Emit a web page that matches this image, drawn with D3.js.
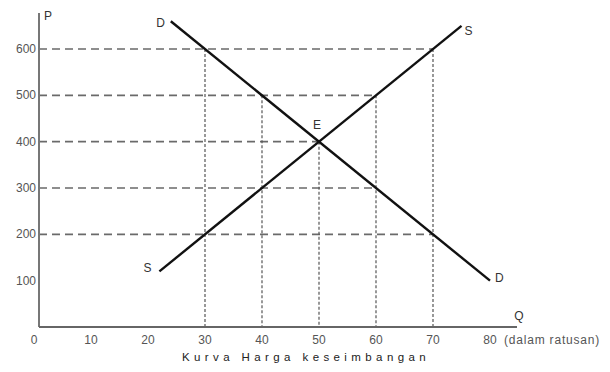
<!DOCTYPE html>
<html>
<head>
<meta charset="utf-8">
<script src="https://cdn.jsdelivr.net/npm/d3@7"></script>
<style>
    body { margin: 0; background: #fff; }
    text { font-family: "Liberation Sans", Arial, sans-serif; }
</style>
</head>
<body>
<div id="chart"></div>
<script>
// chart data
var qTicks = [0, 10, 20, 30, 40, 50, 60, 70, 80];
var pTicks = [100, 200, 300, 400, 500, 600];

// demand and supply end points (Q, P)
var demandQ = [24, 80];
var demandP = [660, 100];
var supplyQ = [22, 75];
var supplyP = [120, 650];

// guide lines: price level and the quantity it reaches
var guideP = [600, 500, 400, 300, 200];
var guideQ = [70, 60, 50, 60, 70];

// vertical guides: quantity and the price they start from
var dropQ = [30, 40, 50, 60, 70];
var dropP = [600, 500, 400, 500, 600];

var width = 610;
var height = 372;

var svg = d3.select("#chart").append("svg")
    .attr("width", width)
    .attr("height", height);

// setup scales
var xScale = d3.scaleLinear().domain([0, 80]).range([34, 490]);
var yScale = d3.scaleLinear().domain([0, 600]).range([327, 49]);
var axisX = 39;

// horizontal dashed guides
svg.selectAll(".hguide")
    .data(guideP)
    .enter()
    .append("line")
    .attr("class", "hguide")
    .attr("x1", axisX)
    .attr("x2", function (d, i) { return xScale(guideQ[i]); })
    .attr("y1", function (d) { return yScale(d); })
    .attr("y2", function (d) { return yScale(d); })
    .style("stroke", "#6a6a6a")
    .style("stroke-width", 1.6)
    .style("stroke-dasharray", "8,5");

// vertical dotted guides
svg.selectAll(".vguide")
    .data(dropQ)
    .enter()
    .append("line")
    .attr("class", "vguide")
    .attr("x1", function (d) { return xScale(d); })
    .attr("x2", function (d) { return xScale(d); })
    .attr("y1", function (d, i) { return yScale(dropP[i]); })
    .attr("y2", yScale(0))
    .style("stroke", "#555")
    .style("stroke-width", 1.2)
    .style("stroke-dasharray", "3,2");

// axes
svg.append("line")
    .attr("x1", axisX).attr("x2", axisX)
    .attr("y1", 13).attr("y2", yScale(0))
    .style("stroke", "#777").style("stroke-width", 2);

svg.append("line")
    .attr("x1", axisX).attr("x2", 517)
    .attr("y1", yScale(0)).attr("y2", yScale(0))
    .style("stroke", "#666").style("stroke-width", 2);

svg.selectAll(".xlab")
    .data(qTicks)
    .enter()
    .append("text")
    .attr("class", "xlab")
    .attr("x", function (d) { return xScale(d); })
    .attr("y", yScale(0) + 17)
    .style("text-anchor", "middle")
    .style("font-size", "12px")
    .style("fill", "#555")
    .text(function (d) { return d; });

svg.selectAll(".ylab")
    .data(pTicks)
    .enter()
    .append("text")
    .attr("class", "ylab")
    .attr("x", axisX - 3)
    .attr("y", function (d) { return yScale(d) + 4; })
    .style("text-anchor", "end")
    .style("font-size", "12px")
    .style("fill", "#555")
    .text(function (d) { return d; });

// demand and supply curves
var line = d3.line()
    .x(function (d) { return xScale(d[0]); })
    .y(function (d) { return yScale(d[1]); });

svg.append("path")
    .datum(d3.zip(demandQ, demandP))
    .attr("d", line)
    .style("fill", "none")
    .style("stroke", "#111")
    .style("stroke-width", 2.4);

svg.append("path")
    .datum(d3.zip(supplyQ, supplyP))
    .attr("d", line)
    .style("fill", "none")
    .style("stroke", "#111")
    .style("stroke-width", 2.4);

// curve labels
function label(txt, x, y, anchor) {
    return svg.append("text")
        .attr("x", x)
        .attr("y", y)
        .style("text-anchor", anchor || "start")
        .style("font-size", "12px")
        .style("fill", "#333")
        .text(txt);
}

label("D", xScale(demandQ[0]) - 6, yScale(demandP[0]) + 6, "end");
label("D", xScale(demandQ[1]) + 5, yScale(demandP[1]) + 1);
label("S", xScale(supplyQ[0]) - 8, yScale(supplyP[0]) + 1, "end");
label("S", xScale(supplyQ[1]) + 3, yScale(supplyP[1]) + 9);
label("E", xScale(50) - 2, yScale(400) - 13, "middle");
label("P", axisX + 5, 20);
label("Q", 519, 320, "middle");
label("(dalam ratusan)", 504, yScale(0) + 17)
    .style("fill", "#555")
    .style("letter-spacing", "0.8px");

svg.append("text")
    .attr("x", 306)
    .attr("y", 361)
    .style("text-anchor", "middle")
    .style("font-size", "11.5px")
    .style("letter-spacing", "4.4px")
    .style("fill", "#222")
    .text("Kurva Harga keseimbangan");
</script>
</body>
</html>
